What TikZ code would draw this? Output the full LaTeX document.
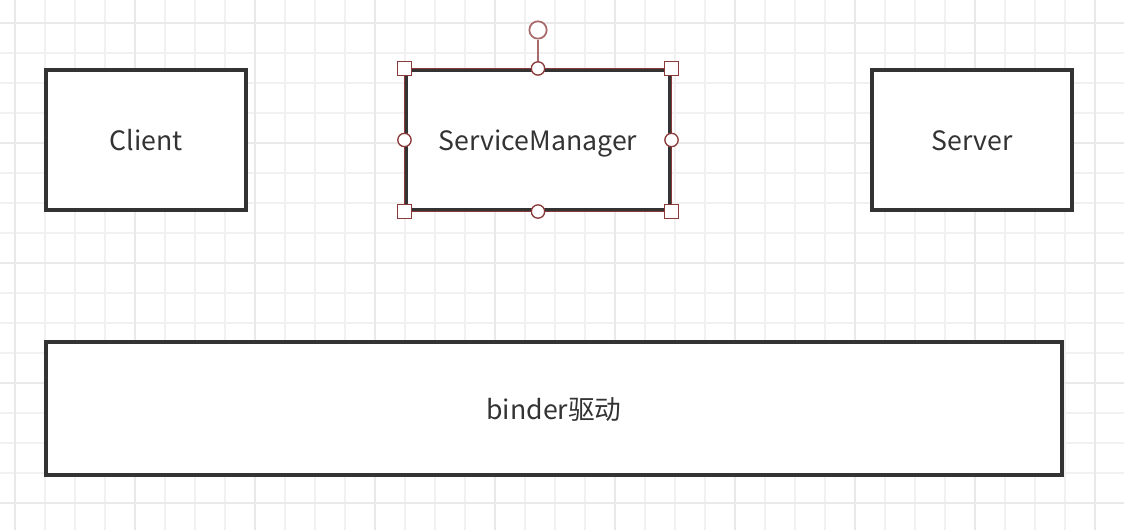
\documentclass[tikz,border=0pt]{standalone}
\usepackage{fontspec}
\setmainfont{Noto Sans CJK SC}
\definecolor{ink}{HTML}{333333}
\definecolor{gridc}{HTML}{F1F1F1}
\definecolor{gridm}{HTML}{E9E9E9}
\definecolor{sel}{HTML}{8B3A3A}
\tikzset{
  box/.style={draw=ink, line width=2.3pt, fill=white, text=ink, font=\fontsize{20}{22}\selectfont, inner sep=0pt, text height=17pt, text depth=1pt},
  selline/.style={draw=sel, line width=1.2pt},
  sqhandle/.style={draw=sel, fill=white, line width=1pt, minimum size=10.5pt, inner sep=0pt, rectangle},
  cihandle/.style={draw=sel, fill=white, line width=1pt, minimum size=10pt, inner sep=0pt, circle},
  rothandle/.style={draw=sel!75, fill=white, line width=1.3pt, minimum size=13pt, inner sep=0pt, circle},
}
\begin{document}
\begin{tikzpicture}[x=0.75pt,y=-0.75pt]
\useasboundingbox (0,0) rectangle (1124,530);
\fill[white] (0,0) rectangle (1124,530);
% grid
\foreach \x in {15,45,...,1124} \draw[gridc, line width=1pt] (\x,0) -- (\x,530);
\foreach \y in {23,53,...,530} \draw[gridc, line width=1pt] (0,\y) -- (1124,\y);
\foreach \x in {15,135,...,1124} \draw[gridm, line width=1pt] (\x,0) -- (\x,530);
\foreach \y in {23,143,...,530} \draw[gridm, line width=1pt] (0,\y) -- (1124,\y);
% boxes
\node[box, minimum width=200*0.75pt, minimum height=140*0.75pt] (client) at (146,140) {Client};
\node[box, minimum width=264*0.75pt, minimum height=140*0.75pt] (sm) at (538,140) {ServiceManager};
\node[box, minimum width=200*0.75pt, minimum height=140*0.75pt] (server) at (972,140) {Server};
\node[box, minimum width=1016*0.75pt, minimum height=133*0.75pt] (binder) at (554,408.5) {binder驱动};
% selection overlay
\draw[selline] (sm.north west) rectangle (sm.south east);
\node[rothandle] (rot) at (538,30) {};
\draw[selline, draw=sel!75] (rot.south) -- (sm.north);
\foreach \a in {north west,north east,south west,south east}
  \node[sqhandle] at (sm.\a) {};
\foreach \a in {north,south,east,west}
  \node[cihandle] at (sm.\a) {};
\end{tikzpicture}
\end{document}
